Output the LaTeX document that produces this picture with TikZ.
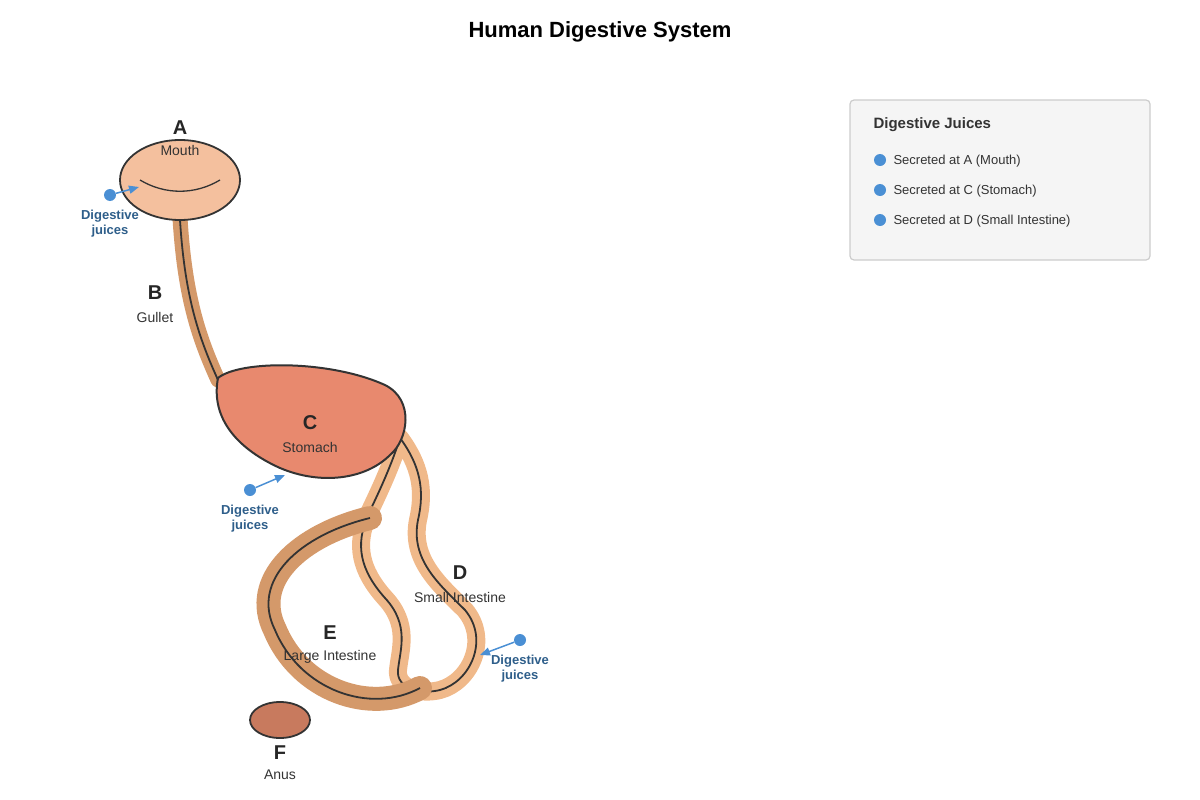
\documentclass[tikz,border=0pt]{standalone}
\usepackage{fontspec}
\setmainfont{Liberation Sans}
\usetikzlibrary{arrows.meta,shapes.geometric}
\definecolor{tube}{HTML}{D4996A}
\definecolor{small}{HTML}{F0B98A}
\definecolor{stom}{HTML}{E8896E}
\definecolor{mouthc}{HTML}{F4C09E}
\definecolor{anusc}{HTML}{C87A5E}
\definecolor{jblue}{HTML}{4A8FD4}
\definecolor{jtext}{HTML}{2E5E8A}
\definecolor{dk}{HTML}{333333}
\begin{document}
\begin{tikzpicture}[x=1pt,y=-1pt,
  letter/.style={font=\bfseries\fontsize{20}{20}\selectfont,text=black!85},
  sub/.style={font=\fontsize{14}{14}\selectfont,text=dk},
  jtxt/.style={font=\bfseries\fontsize{13}{15}\selectfont,text=jtext,align=center},
  jdot/.style={circle,fill=jblue,inner sep=0,minimum size=12},
  jarr/.style={draw=jblue,line width=1.5,-{Triangle[length=10,width=8]}},
  leg/.style={font=\fontsize{13}{13}\selectfont,text=dk,anchor=west}]
\useasboundingbox (0,0) rectangle (1200,800);
\node[font=\bfseries\fontsize{22}{22}\selectfont] (title) at (600,32) {Human Digestive System};
% gullet
\draw[tube,line width=15,line cap=round] (180,218) .. controls (185,300) and (200,340) .. (218,380);
\draw[dk,line width=1.8] (180,220) .. controls (185,300) and (200,340) .. (218,380);
% mouth
\node[draw=dk,line width=1.8,fill=mouthc,ellipse,minimum width=120,minimum height=80,inner sep=0] (mouth) at (180,180) {};
\draw[dk,line width=1.3] (140,180) .. controls (165,195) and (195,195) .. (220,180);
% small intestine
\draw[small,line width=18,line cap=round,line join=round] (400,438) .. controls (390,470) and (375,500) .. (368,515) .. controls (355,545) and (360,570) .. (385,598) .. controls (410,625) and (400,650) .. (398,670) .. controls (396,688) and (420,695) .. (440,690) .. controls (470,682) and (490,640) .. (465,610) .. controls (440,585) and (410,560) .. (418,520) .. controls (425,490) and (420,465) .. (400,438);
\draw[dk,line width=1.8,line join=round] (400,438) .. controls (390,470) and (375,500) .. (368,515) .. controls (355,545) and (360,570) .. (385,598) .. controls (410,625) and (400,650) .. (398,670) .. controls (396,688) and (420,695) .. (440,690) .. controls (470,682) and (490,640) .. (465,610) .. controls (440,585) and (410,560) .. (418,520) .. controls (425,490) and (420,465) .. (400,438);
% large intestine
\draw[tube,line width=24,line cap=round] (370,518) .. controls (300,535) and (250,580) .. (275,630) .. controls (300,690) and (370,715) .. (420,688);
\draw[dk,line width=1.8] (370,518) .. controls (300,535) and (250,580) .. (275,630) .. controls (300,690) and (370,715) .. (420,688);
% stomach
\draw[dk,line width=2,fill=stom] (218,378) .. controls (240,360) and (330,360) .. (385,385) .. controls (415,400) and (408,440) .. (390,455) .. controls (365,480) and (320,485) .. (280,468) .. controls (240,450) and (210,420) .. (218,378) -- cycle;
% anus
\node[draw=dk,line width=1.8,fill=anusc,ellipse,minimum width=60,minimum height=36,inner sep=0] (anus) at (280,720) {};
% labels
\node[letter] (la) at (180,128) {A}; \node[sub] (sa) at (180,150) {Mouth};
\node[letter] (lb) at (155,293) {B}; \node[sub] (sb) at (155,317) {Gullet};
\node[letter] (lc) at (310,423) {C}; \node[sub] (sc) at (310,447) {Stomach};
\node[letter] (ld) at (460,573) {D}; \node[sub] (sd) at (460,597) {Small Intestine};
\node[letter] (le) at (330,633) {E}; \node[sub] (se) at (330,657) {Large Intestine};
\node[letter] (lf) at (280,753) {F}; \node[sub] (sf) at (280,775) {Anus};
% juices
\node[jdot] (j1) at (110,195) {}; \coordinate (t1) at (139,187);
\draw[jarr] (j1) -- (t1);
\node[jtxt] (jt1) at (110,224) {Digestive\\juices};
\node[jdot] (j2) at (250,490) {}; \coordinate (t2) at (285,475);
\draw[jarr] (j2) -- (t2);
\node[jtxt] (jt2) at (250,519) {Digestive\\juices};
\node[jdot] (j3) at (520,640) {}; \coordinate (t3) at (480,655);
\draw[jarr] (j3) -- (t3);
\node[jtxt] (jt3) at (520,669) {Digestive\\juices};
% legend
\draw[draw=black!20,fill=black!4,line width=1.2,rounded corners=4] (850,100) rectangle (1150,260);
\node[font=\bfseries\fontsize{15}{15}\selectfont,text=dk,anchor=west] (lt) at (870,125) {Digestive Juices};
\node[jdot] (d1) at (880,160) {}; \node[leg] (l1) at (890,161) {Secreted at A (Mouth)};
\node[jdot] (d2) at (880,190) {}; \node[leg] (l2) at (890,191) {Secreted at C (Stomach)};
\node[jdot] (d3) at (880,220) {}; \node[leg] (l3) at (890,221) {Secreted at D (Small Intestine)};
\end{tikzpicture}
\end{document}
